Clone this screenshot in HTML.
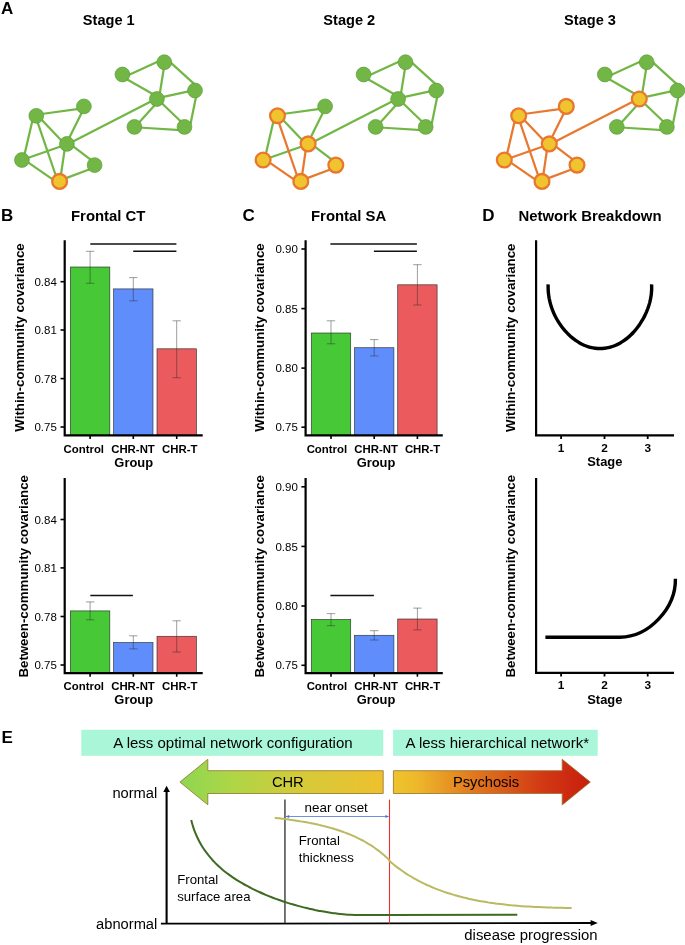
<!DOCTYPE html>
<html><head><meta charset="utf-8"><title>Figure</title>
<style>html,body{margin:0;padding:0;background:#fff;}body{width:685px;height:945px;overflow:hidden;}svg{will-change:transform;display:block;position:absolute;left:0;top:0;}text{font-family:"Liberation Sans",sans-serif;fill:#000;}.b{font-weight:bold;}</style>
</head><body>
<svg width="685" height="945" viewBox="0 0 685 945">
<defs>
<linearGradient id="g1" x1="0" y1="0" x2="1" y2="0"><stop offset="0" stop-color="#8DD651"/><stop offset="0.25" stop-color="#ADD647"/><stop offset="0.6" stop-color="#D5CA39"/><stop offset="1" stop-color="#EEC02E"/></linearGradient>
<linearGradient id="g2" x1="0" y1="0" x2="1" y2="0"><stop offset="0" stop-color="#EEC42E"/><stop offset="0.12" stop-color="#EDB82B"/><stop offset="0.4" stop-color="#E27A1E"/><stop offset="0.75" stop-color="#D23A14"/><stop offset="1" stop-color="#C81E0E"/></linearGradient>
</defs>
<g>
<line x1="41.4" y1="114.0" x2="78.9" y2="108.9" stroke="#72B746" stroke-width="2.25"/>
<line x1="40.7" y1="118.7" x2="62.1" y2="141.3" stroke="#72B746" stroke-width="2.25"/>
<line x1="32.5" y1="120.3" x2="24.4" y2="155.1" stroke="#72B746" stroke-width="2.25"/>
<line x1="37.2" y1="121.1" x2="56.3" y2="177.0" stroke="#72B746" stroke-width="2.25"/>
<line x1="82.2" y1="111.8" x2="68.8" y2="138.8" stroke="#72B746" stroke-width="2.25"/>
<line x1="62.0" y1="146.0" x2="27.0" y2="158.3" stroke="#72B746" stroke-width="2.25"/>
<line x1="64.7" y1="149.1" x2="60.7" y2="176.3" stroke="#72B746" stroke-width="2.25"/>
<line x1="71.9" y1="145.3" x2="91.6" y2="160.4" stroke="#72B746" stroke-width="2.25"/>
<line x1="27.3" y1="161.9" x2="54.1" y2="180.4" stroke="#72B746" stroke-width="2.25"/>
<line x1="90.4" y1="169.0" x2="65.4" y2="178.4" stroke="#72B746" stroke-width="2.25"/>
<line x1="72.0" y1="142.1" x2="152.3" y2="100.7" stroke="#72B746" stroke-width="2.25"/>
<line x1="127.6" y1="75.5" x2="159.2" y2="61.1" stroke="#72B746" stroke-width="2.25"/>
<line x1="125.5" y1="78.6" x2="154.0" y2="94.8" stroke="#72B746" stroke-width="2.25"/>
<line x1="164.0" y1="67.2" x2="159.7" y2="94.1" stroke="#72B746" stroke-width="2.25"/>
<line x1="170.1" y1="62.2" x2="194.4" y2="84.1" stroke="#72B746" stroke-width="2.25"/>
<line x1="162.3" y1="97.2" x2="189.8" y2="91.1" stroke="#72B746" stroke-width="2.25"/>
<line x1="196.3" y1="95.5" x2="190.5" y2="123.9" stroke="#72B746" stroke-width="2.25"/>
<line x1="155.5" y1="104.3" x2="138.2" y2="123.4" stroke="#72B746" stroke-width="2.25"/>
<line x1="160.8" y1="102.3" x2="181.9" y2="122.5" stroke="#72B746" stroke-width="2.25"/>
<line x1="138.9" y1="127.5" x2="180.4" y2="130.2" stroke="#72B746" stroke-width="2.25"/>
<circle cx="36.3" cy="115.8" r="7.4" fill="#72B746" stroke="#5C9C3A" stroke-width="0.7"/>
<circle cx="83.9" cy="106.4" r="7.4" fill="#72B746" stroke="#5C9C3A" stroke-width="0.7"/>
<circle cx="66.9" cy="143.9" r="7.4" fill="#72B746" stroke="#5C9C3A" stroke-width="0.7"/>
<circle cx="21.9" cy="160.0" r="7.4" fill="#72B746" stroke="#5C9C3A" stroke-width="0.7"/>
<circle cx="94.6" cy="165.1" r="7.4" fill="#72B746" stroke="#5C9C3A" stroke-width="0.7"/>
<circle cx="59.6" cy="181.4" r="7.4" fill="#F0C42F" stroke="#E8782E" stroke-width="2.3"/>
<circle cx="122.4" cy="74.5" r="7.4" fill="#72B746" stroke="#5C9C3A" stroke-width="0.7"/>
<circle cx="164.3" cy="62.2" r="7.4" fill="#72B746" stroke="#5C9C3A" stroke-width="0.7"/>
<circle cx="195.0" cy="90.5" r="7.4" fill="#72B746" stroke="#5C9C3A" stroke-width="0.7"/>
<circle cx="156.9" cy="99.0" r="7.4" fill="#72B746" stroke="#5C9C3A" stroke-width="0.7"/>
<circle cx="134.4" cy="126.9" r="7.4" fill="#72B746" stroke="#5C9C3A" stroke-width="0.7"/>
<circle cx="184.5" cy="126.9" r="7.4" fill="#72B746" stroke="#5C9C3A" stroke-width="0.7"/>
</g>
<g>
<line x1="282.6" y1="114.0" x2="320.1" y2="108.9" stroke="#72B746" stroke-width="2.25"/>
<line x1="281.9" y1="118.7" x2="303.3" y2="141.3" stroke="#72B746" stroke-width="2.25"/>
<line x1="273.7" y1="120.3" x2="265.6" y2="155.1" stroke="#72B746" stroke-width="2.25"/>
<line x1="323.4" y1="111.8" x2="310.0" y2="138.8" stroke="#72B746" stroke-width="2.25"/>
<line x1="303.2" y1="146.0" x2="268.2" y2="158.3" stroke="#72B746" stroke-width="2.25"/>
<line x1="313.1" y1="145.3" x2="332.8" y2="160.4" stroke="#72B746" stroke-width="2.25"/>
<line x1="313.2" y1="142.1" x2="393.5" y2="100.7" stroke="#72B746" stroke-width="2.25"/>
<line x1="368.8" y1="75.5" x2="400.4" y2="61.1" stroke="#72B746" stroke-width="2.25"/>
<line x1="366.7" y1="78.6" x2="395.2" y2="94.8" stroke="#72B746" stroke-width="2.25"/>
<line x1="405.2" y1="67.2" x2="400.9" y2="94.1" stroke="#72B746" stroke-width="2.25"/>
<line x1="411.3" y1="62.2" x2="435.6" y2="84.1" stroke="#72B746" stroke-width="2.25"/>
<line x1="403.5" y1="97.2" x2="431.0" y2="91.1" stroke="#72B746" stroke-width="2.25"/>
<line x1="437.5" y1="95.5" x2="431.7" y2="123.9" stroke="#72B746" stroke-width="2.25"/>
<line x1="396.7" y1="104.3" x2="379.4" y2="123.4" stroke="#72B746" stroke-width="2.25"/>
<line x1="402.0" y1="102.3" x2="423.1" y2="122.5" stroke="#72B746" stroke-width="2.25"/>
<line x1="380.1" y1="127.5" x2="421.6" y2="130.2" stroke="#72B746" stroke-width="2.25"/>
<line x1="278.4" y1="121.1" x2="297.5" y2="177.0" stroke="#E8782E" stroke-width="2.25"/>
<line x1="305.9" y1="149.1" x2="301.9" y2="176.3" stroke="#E8782E" stroke-width="2.25"/>
<line x1="268.5" y1="161.9" x2="295.3" y2="180.4" stroke="#E8782E" stroke-width="2.25"/>
<line x1="331.6" y1="169.0" x2="306.6" y2="178.4" stroke="#E8782E" stroke-width="2.25"/>
<circle cx="277.5" cy="115.8" r="7.4" fill="#F0C42F" stroke="#E8782E" stroke-width="2.3"/>
<circle cx="325.1" cy="106.4" r="7.4" fill="#72B746" stroke="#5C9C3A" stroke-width="0.7"/>
<circle cx="308.1" cy="143.9" r="7.4" fill="#F0C42F" stroke="#E8782E" stroke-width="2.3"/>
<circle cx="263.1" cy="160.0" r="7.4" fill="#F0C42F" stroke="#E8782E" stroke-width="2.3"/>
<circle cx="335.8" cy="165.1" r="7.4" fill="#F0C42F" stroke="#E8782E" stroke-width="2.3"/>
<circle cx="300.8" cy="181.4" r="7.4" fill="#F0C42F" stroke="#E8782E" stroke-width="2.3"/>
<circle cx="363.6" cy="74.5" r="7.4" fill="#72B746" stroke="#5C9C3A" stroke-width="0.7"/>
<circle cx="405.5" cy="62.2" r="7.4" fill="#72B746" stroke="#5C9C3A" stroke-width="0.7"/>
<circle cx="436.2" cy="90.5" r="7.4" fill="#72B746" stroke="#5C9C3A" stroke-width="0.7"/>
<circle cx="398.1" cy="99.0" r="7.4" fill="#72B746" stroke="#5C9C3A" stroke-width="0.7"/>
<circle cx="375.6" cy="126.9" r="7.4" fill="#72B746" stroke="#5C9C3A" stroke-width="0.7"/>
<circle cx="425.7" cy="126.9" r="7.4" fill="#72B746" stroke="#5C9C3A" stroke-width="0.7"/>
</g>
<g>
<line x1="610.0" y1="75.5" x2="641.6" y2="61.1" stroke="#72B746" stroke-width="2.25"/>
<line x1="607.9" y1="78.6" x2="636.4" y2="94.8" stroke="#72B746" stroke-width="2.25"/>
<line x1="646.4" y1="67.2" x2="642.1" y2="94.1" stroke="#72B746" stroke-width="2.25"/>
<line x1="652.5" y1="62.2" x2="676.8" y2="84.1" stroke="#72B746" stroke-width="2.25"/>
<line x1="644.7" y1="97.2" x2="672.2" y2="91.1" stroke="#72B746" stroke-width="2.25"/>
<line x1="678.7" y1="95.5" x2="672.9" y2="123.9" stroke="#72B746" stroke-width="2.25"/>
<line x1="637.9" y1="104.3" x2="620.6" y2="123.4" stroke="#72B746" stroke-width="2.25"/>
<line x1="643.2" y1="102.3" x2="664.3" y2="122.5" stroke="#72B746" stroke-width="2.25"/>
<line x1="621.3" y1="127.5" x2="662.8" y2="130.2" stroke="#72B746" stroke-width="2.25"/>
<line x1="523.8" y1="114.0" x2="561.3" y2="108.9" stroke="#E8782E" stroke-width="2.25"/>
<line x1="523.1" y1="118.7" x2="544.5" y2="141.3" stroke="#E8782E" stroke-width="2.25"/>
<line x1="514.9" y1="120.3" x2="506.8" y2="155.1" stroke="#E8782E" stroke-width="2.25"/>
<line x1="519.6" y1="121.1" x2="538.7" y2="177.0" stroke="#E8782E" stroke-width="2.25"/>
<line x1="564.6" y1="111.8" x2="551.2" y2="138.8" stroke="#E8782E" stroke-width="2.25"/>
<line x1="544.4" y1="146.0" x2="509.4" y2="158.3" stroke="#E8782E" stroke-width="2.25"/>
<line x1="547.1" y1="149.1" x2="543.1" y2="176.3" stroke="#E8782E" stroke-width="2.25"/>
<line x1="554.3" y1="145.3" x2="574.0" y2="160.4" stroke="#E8782E" stroke-width="2.25"/>
<line x1="509.7" y1="161.9" x2="536.5" y2="180.4" stroke="#E8782E" stroke-width="2.25"/>
<line x1="572.8" y1="169.0" x2="547.8" y2="178.4" stroke="#E8782E" stroke-width="2.25"/>
<line x1="554.4" y1="142.1" x2="634.7" y2="100.7" stroke="#E8782E" stroke-width="2.25"/>
<circle cx="518.7" cy="115.8" r="7.4" fill="#F0C42F" stroke="#E8782E" stroke-width="2.3"/>
<circle cx="566.3" cy="106.4" r="7.4" fill="#F0C42F" stroke="#E8782E" stroke-width="2.3"/>
<circle cx="549.3" cy="143.9" r="7.4" fill="#F0C42F" stroke="#E8782E" stroke-width="2.3"/>
<circle cx="504.3" cy="160.0" r="7.4" fill="#F0C42F" stroke="#E8782E" stroke-width="2.3"/>
<circle cx="577.0" cy="165.1" r="7.4" fill="#F0C42F" stroke="#E8782E" stroke-width="2.3"/>
<circle cx="542.0" cy="181.4" r="7.4" fill="#F0C42F" stroke="#E8782E" stroke-width="2.3"/>
<circle cx="604.8" cy="74.5" r="7.4" fill="#72B746" stroke="#5C9C3A" stroke-width="0.7"/>
<circle cx="646.7" cy="62.2" r="7.4" fill="#72B746" stroke="#5C9C3A" stroke-width="0.7"/>
<circle cx="677.4" cy="90.5" r="7.4" fill="#72B746" stroke="#5C9C3A" stroke-width="0.7"/>
<circle cx="639.3" cy="99.0" r="7.4" fill="#F0C42F" stroke="#E8782E" stroke-width="2.3"/>
<circle cx="616.8" cy="126.9" r="7.4" fill="#72B746" stroke="#5C9C3A" stroke-width="0.7"/>
<circle cx="666.9" cy="126.9" r="7.4" fill="#72B746" stroke="#5C9C3A" stroke-width="0.7"/>
</g>
<text x="1.0" y="14.2" font-size="17" class="b" text-anchor="start">A</text>
<text x="108.8" y="25.2" font-size="14.6" class="b" text-anchor="middle">Stage 1</text>
<text x="349.3" y="25.2" font-size="14.6" class="b" text-anchor="middle">Stage 2</text>
<text x="590.0" y="25.2" font-size="14.6" class="b" text-anchor="middle">Stage 3</text>
<rect x="70.4" y="267.0" width="39.4" height="168.4" fill="#47C836" stroke="#222" stroke-opacity="0.85" stroke-width="0.7"/>
<rect x="113.6" y="288.9" width="39.4" height="146.5" fill="#5F8DFC" stroke="#222" stroke-opacity="0.85" stroke-width="0.7"/>
<rect x="157.0" y="348.8" width="39.4" height="86.6" fill="#EB5B5D" stroke="#222" stroke-opacity="0.85" stroke-width="0.7"/>
<path d="M85.9,251.3H94.3M90.1,251.3V283.3M85.9,283.3H94.3" stroke="#2a2a2a" stroke-opacity="0.65" stroke-width="0.7" fill="none"/>
<path d="M129.1,277.6H137.5M133.3,277.6V300.8M129.1,300.8H137.5" stroke="#2a2a2a" stroke-opacity="0.65" stroke-width="0.7" fill="none"/>
<path d="M172.5,320.8H180.9M176.7,320.8V377.7M172.5,377.7H180.9" stroke="#2a2a2a" stroke-opacity="0.65" stroke-width="0.7" fill="none"/>
<path d="M64.7,240.3V435.4H202.7" stroke="#000" stroke-width="2.2" fill="none" stroke-linejoin="miter"/>
<line x1="60.5" y1="281.7" x2="64.7" y2="281.7" stroke="#000" stroke-width="1.6"/>
<text x="56.8" y="285.8" font-size="11.5" text-anchor="end" fill="#1a1a1a">0.84</text>
<line x1="60.5" y1="330.0" x2="64.7" y2="330.0" stroke="#000" stroke-width="1.6"/>
<text x="56.8" y="334.1" font-size="11.5" text-anchor="end" fill="#1a1a1a">0.81</text>
<line x1="60.5" y1="378.6" x2="64.7" y2="378.6" stroke="#000" stroke-width="1.6"/>
<text x="56.8" y="382.70000000000005" font-size="11.5" text-anchor="end" fill="#1a1a1a">0.78</text>
<line x1="60.5" y1="427.0" x2="64.7" y2="427.0" stroke="#000" stroke-width="1.6"/>
<text x="56.8" y="431.1" font-size="11.5" text-anchor="end" fill="#1a1a1a">0.75</text>
<line x1="90.1" y1="435.4" x2="90.1" y2="439.0" stroke="#000" stroke-width="1.6"/>
<line x1="133.3" y1="435.4" x2="133.3" y2="439.0" stroke="#000" stroke-width="1.6"/>
<line x1="176.7" y1="435.4" x2="176.7" y2="439.0" stroke="#000" stroke-width="1.6"/>
<line x1="90.3" y1="244.0" x2="176.4" y2="244.0" stroke="#111" stroke-width="1.4"/>
<line x1="133.2" y1="251.2" x2="176.4" y2="251.2" stroke="#111" stroke-width="1.4"/>
<text x="83.8" y="452.7" font-size="11.4" class="b" text-anchor="middle">Control</text>
<text x="133.0" y="452.7" font-size="11.4" class="b" text-anchor="middle">CHR-NT</text>
<text x="179.7" y="452.7" font-size="11.4" class="b" text-anchor="middle">CHR-T</text>
<text x="133.7" y="466.7" font-size="12.9" class="b" text-anchor="middle">Group</text>
<text transform="translate(24.0,337.5) rotate(-90)" font-size="13.25" class="b" text-anchor="middle">Within-community covariance</text>
<rect x="70.4" y="610.9" width="39.4" height="62.2" fill="#47C836" stroke="#222" stroke-opacity="0.85" stroke-width="0.7"/>
<rect x="113.6" y="642.5" width="39.4" height="30.6" fill="#5F8DFC" stroke="#222" stroke-opacity="0.85" stroke-width="0.7"/>
<rect x="157.0" y="636.3" width="39.4" height="36.8" fill="#EB5B5D" stroke="#222" stroke-opacity="0.85" stroke-width="0.7"/>
<path d="M85.9,601.9H94.3M90.1,601.9V619.8M85.9,619.8H94.3" stroke="#2a2a2a" stroke-opacity="0.65" stroke-width="0.7" fill="none"/>
<path d="M129.1,635.8H137.5M133.3,635.8V648.9M129.1,648.9H137.5" stroke="#2a2a2a" stroke-opacity="0.65" stroke-width="0.7" fill="none"/>
<path d="M172.5,620.8H180.9M176.7,620.8V652.0M172.5,652.0H180.9" stroke="#2a2a2a" stroke-opacity="0.65" stroke-width="0.7" fill="none"/>
<path d="M64.7,478.1V673.1H202.7" stroke="#000" stroke-width="2.2" fill="none" stroke-linejoin="miter"/>
<line x1="60.5" y1="519.5" x2="64.7" y2="519.5" stroke="#000" stroke-width="1.6"/>
<text x="56.8" y="523.6" font-size="11.5" text-anchor="end" fill="#1a1a1a">0.84</text>
<line x1="60.5" y1="567.9" x2="64.7" y2="567.9" stroke="#000" stroke-width="1.6"/>
<text x="56.8" y="572.0" font-size="11.5" text-anchor="end" fill="#1a1a1a">0.81</text>
<line x1="60.5" y1="616.5" x2="64.7" y2="616.5" stroke="#000" stroke-width="1.6"/>
<text x="56.8" y="620.6" font-size="11.5" text-anchor="end" fill="#1a1a1a">0.78</text>
<line x1="60.5" y1="665.0" x2="64.7" y2="665.0" stroke="#000" stroke-width="1.6"/>
<text x="56.8" y="669.1" font-size="11.5" text-anchor="end" fill="#1a1a1a">0.75</text>
<line x1="90.1" y1="673.1" x2="90.1" y2="676.7" stroke="#000" stroke-width="1.6"/>
<line x1="133.3" y1="673.1" x2="133.3" y2="676.7" stroke="#000" stroke-width="1.6"/>
<line x1="176.7" y1="673.1" x2="176.7" y2="676.7" stroke="#000" stroke-width="1.6"/>
<line x1="90.3" y1="595.5" x2="132.9" y2="595.5" stroke="#111" stroke-width="1.4"/>
<text x="83.8" y="690.4" font-size="11.4" class="b" text-anchor="middle">Control</text>
<text x="133.0" y="690.4" font-size="11.4" class="b" text-anchor="middle">CHR-NT</text>
<text x="179.7" y="690.4" font-size="11.4" class="b" text-anchor="middle">CHR-T</text>
<text x="133.7" y="704.4" font-size="12.9" class="b" text-anchor="middle">Group</text>
<text transform="translate(27.6,576.3) rotate(-90)" font-size="13.25" class="b" text-anchor="middle">Between-community covariance</text>
<rect x="311.3" y="333.0" width="39.4" height="102.4" fill="#47C836" stroke="#222" stroke-opacity="0.85" stroke-width="0.7"/>
<rect x="354.5" y="347.7" width="39.4" height="87.7" fill="#5F8DFC" stroke="#222" stroke-opacity="0.85" stroke-width="0.7"/>
<rect x="397.7" y="284.8" width="39.4" height="150.6" fill="#EB5B5D" stroke="#222" stroke-opacity="0.85" stroke-width="0.7"/>
<path d="M326.8,320.8H335.2M331.0,320.8V343.8M326.8,343.8H335.2" stroke="#2a2a2a" stroke-opacity="0.65" stroke-width="0.7" fill="none"/>
<path d="M370.0,339.6H378.4M374.2,339.6V355.9M370.0,355.9H378.4" stroke="#2a2a2a" stroke-opacity="0.65" stroke-width="0.7" fill="none"/>
<path d="M413.2,264.7H421.6M417.4,264.7V305.0M413.2,305.0H421.6" stroke="#2a2a2a" stroke-opacity="0.65" stroke-width="0.7" fill="none"/>
<path d="M305.6,240.3V435.4H442.8" stroke="#000" stroke-width="2.2" fill="none" stroke-linejoin="miter"/>
<line x1="301.40000000000003" y1="249.0" x2="305.6" y2="249.0" stroke="#000" stroke-width="1.6"/>
<text x="297.79999999999995" y="253.1" font-size="11.5" text-anchor="end" fill="#1a1a1a">0.90</text>
<line x1="301.40000000000003" y1="308.6" x2="305.6" y2="308.6" stroke="#000" stroke-width="1.6"/>
<text x="297.79999999999995" y="312.70000000000005" font-size="11.5" text-anchor="end" fill="#1a1a1a">0.85</text>
<line x1="301.40000000000003" y1="368.1" x2="305.6" y2="368.1" stroke="#000" stroke-width="1.6"/>
<text x="297.79999999999995" y="372.20000000000005" font-size="11.5" text-anchor="end" fill="#1a1a1a">0.80</text>
<line x1="301.40000000000003" y1="427.2" x2="305.6" y2="427.2" stroke="#000" stroke-width="1.6"/>
<text x="297.79999999999995" y="431.3" font-size="11.5" text-anchor="end" fill="#1a1a1a">0.75</text>
<line x1="331.0" y1="435.4" x2="331.0" y2="439.0" stroke="#000" stroke-width="1.6"/>
<line x1="374.2" y1="435.4" x2="374.2" y2="439.0" stroke="#000" stroke-width="1.6"/>
<line x1="417.4" y1="435.4" x2="417.4" y2="439.0" stroke="#000" stroke-width="1.6"/>
<line x1="330.4" y1="244.0" x2="416.9" y2="244.0" stroke="#111" stroke-width="1.4"/>
<line x1="373.9" y1="251.2" x2="416.9" y2="251.2" stroke="#111" stroke-width="1.4"/>
<text x="326.9" y="452.7" font-size="11.4" class="b" text-anchor="middle">Control</text>
<text x="376.1" y="452.7" font-size="11.4" class="b" text-anchor="middle">CHR-NT</text>
<text x="422.6" y="452.7" font-size="11.4" class="b" text-anchor="middle">CHR-T</text>
<text x="376.0" y="466.7" font-size="12.9" class="b" text-anchor="middle">Group</text>
<text transform="translate(263.8,337.5) rotate(-90)" font-size="13.25" class="b" text-anchor="middle">Within-community covariance</text>
<rect x="311.3" y="619.5" width="39.4" height="53.6" fill="#47C836" stroke="#222" stroke-opacity="0.85" stroke-width="0.7"/>
<rect x="354.5" y="635.3" width="39.4" height="37.8" fill="#5F8DFC" stroke="#222" stroke-opacity="0.85" stroke-width="0.7"/>
<rect x="397.7" y="619.0" width="39.4" height="54.1" fill="#EB5B5D" stroke="#222" stroke-opacity="0.85" stroke-width="0.7"/>
<path d="M326.8,613.6H335.2M331.0,613.6V625.7M326.8,625.7H335.2" stroke="#2a2a2a" stroke-opacity="0.65" stroke-width="0.7" fill="none"/>
<path d="M370.0,630.7H378.4M374.2,630.7V640.0M370.0,640.0H378.4" stroke="#2a2a2a" stroke-opacity="0.65" stroke-width="0.7" fill="none"/>
<path d="M413.2,608.1H421.6M417.4,608.1V629.9M413.2,629.9H421.6" stroke="#2a2a2a" stroke-opacity="0.65" stroke-width="0.7" fill="none"/>
<path d="M305.6,478.1V673.1H442.8" stroke="#000" stroke-width="2.2" fill="none" stroke-linejoin="miter"/>
<line x1="301.40000000000003" y1="486.8" x2="305.6" y2="486.8" stroke="#000" stroke-width="1.6"/>
<text x="297.79999999999995" y="490.90000000000003" font-size="11.5" text-anchor="end" fill="#1a1a1a">0.90</text>
<line x1="301.40000000000003" y1="546.4" x2="305.6" y2="546.4" stroke="#000" stroke-width="1.6"/>
<text x="297.79999999999995" y="550.5" font-size="11.5" text-anchor="end" fill="#1a1a1a">0.85</text>
<line x1="301.40000000000003" y1="606.0" x2="305.6" y2="606.0" stroke="#000" stroke-width="1.6"/>
<text x="297.79999999999995" y="610.1" font-size="11.5" text-anchor="end" fill="#1a1a1a">0.80</text>
<line x1="301.40000000000003" y1="665.3" x2="305.6" y2="665.3" stroke="#000" stroke-width="1.6"/>
<text x="297.79999999999995" y="669.4" font-size="11.5" text-anchor="end" fill="#1a1a1a">0.75</text>
<line x1="331.0" y1="673.1" x2="331.0" y2="676.7" stroke="#000" stroke-width="1.6"/>
<line x1="374.2" y1="673.1" x2="374.2" y2="676.7" stroke="#000" stroke-width="1.6"/>
<line x1="417.4" y1="673.1" x2="417.4" y2="676.7" stroke="#000" stroke-width="1.6"/>
<line x1="330.4" y1="595.5" x2="373.9" y2="595.5" stroke="#111" stroke-width="1.4"/>
<text x="326.9" y="690.4" font-size="11.4" class="b" text-anchor="middle">Control</text>
<text x="376.1" y="690.4" font-size="11.4" class="b" text-anchor="middle">CHR-NT</text>
<text x="422.6" y="690.4" font-size="11.4" class="b" text-anchor="middle">CHR-T</text>
<text x="376.0" y="704.4" font-size="12.9" class="b" text-anchor="middle">Group</text>
<text transform="translate(263.8,576.3) rotate(-90)" font-size="13.25" class="b" text-anchor="middle">Between-community covariance</text>
<text x="0.9" y="220.6" font-size="17" class="b" text-anchor="start">B</text>
<text x="242.4" y="220.7" font-size="17" class="b" text-anchor="start">C</text>
<text x="482.2" y="220.8" font-size="17" class="b" text-anchor="start">D</text>
<text x="71.0" y="220.5" font-size="14.9" class="b" text-anchor="start">Frontal CT</text>
<text x="311.0" y="220.5" font-size="14.9" class="b" text-anchor="start">Frontal SA</text>
<text x="518.4" y="220.5" font-size="14.9" class="b" text-anchor="start">Network Breakdown</text>
<path d="M536.1,240.2V435.4H674" stroke="#000" stroke-width="2.2" fill="none"/>
<line x1="561.1" y1="435.4" x2="561.1" y2="439.0" stroke="#000" stroke-width="1.8"/>
<text x="561.1" y="451.79999999999995" font-size="11.8" class="b" text-anchor="middle">1</text>
<line x1="604.5" y1="435.4" x2="604.5" y2="439.0" stroke="#000" stroke-width="1.8"/>
<text x="604.5" y="451.79999999999995" font-size="11.8" class="b" text-anchor="middle">2</text>
<line x1="647.7" y1="435.4" x2="647.7" y2="439.0" stroke="#000" stroke-width="1.8"/>
<text x="647.7" y="451.79999999999995" font-size="11.8" class="b" text-anchor="middle">3</text>
<text x="604.8" y="466.4" font-size="12.9" class="b" text-anchor="middle">Stage</text>
<text transform="translate(515.3,337.8) rotate(-90)" font-size="13.25" class="b" text-anchor="middle">Within-community covariance</text>
<path d="M548.15,284.38C548.1,285.2 548.1,287.5 548.15,289.09C548.2,290.6 548.3,292.2 548.49,293.74C548.7,295.3 548.9,296.8 549.17,298.34C549.5,299.9 549.8,301.4 550.18,302.86C550.6,304.4 551.0,305.8 551.5,307.29C552.0,308.8 552.5,310.2 553.12,311.63C553.7,313.1 554.4,314.5 555.05,315.86C555.7,317.2 556.5,318.6 557.27,319.96C558.1,321.3 558.9,322.6 559.77,323.93C560.6,325.2 561.6,326.5 562.53,327.74C563.5,329.0 564.5,330.2 565.56,331.37C566.6,332.5 567.7,333.7 568.84,334.77C570.0,335.9 571.1,336.9 572.34,337.9C573.5,338.9 574.8,339.8 576.08,340.71C577.4,341.6 578.7,342.4 580.02,343.16C581.4,343.9 582.7,344.6 584.15,345.2C585.6,345.8 587.0,346.3 588.47,346.8C589.9,347.3 591.4,347.6 592.96,347.91C594.5,348.2 596.0,348.4 597.55,348.49C599.1,348.6 600.6,348.6 602.18,348.49C603.7,348.4 605.3,348.2 606.78,347.91C608.3,347.6 609.8,347.3 611.31,346.8C612.8,346.3 614.3,345.8 615.7,345.2C617.1,344.6 618.5,343.9 619.9,343.16C621.3,342.4 622.6,341.6 623.87,340.71C625.2,339.8 626.4,338.9 627.59,337.9C628.8,336.9 629.9,335.9 631.05,334.77C632.2,333.7 633.2,332.5 634.27,331.37C635.3,330.2 636.3,329.0 637.25,327.74C638.2,326.5 639.1,325.2 639.98,323.93C640.8,322.6 641.7,321.3 642.46,319.96C643.2,318.6 644.0,317.2 644.68,315.86C645.4,314.5 646.0,313.1 646.63,311.63C647.2,310.2 647.8,308.8 648.29,307.29C648.8,305.8 649.2,304.4 649.64,302.86C650.0,301.4 650.4,299.9 650.66,298.34C650.9,296.8 651.2,295.3 651.34,293.74C651.5,292.2 651.6,290.6 651.67,289.09C651.7,287.5 651.6,285.2 651.63,284.38" stroke="#000" stroke-width="3.4" fill="none"/>
<path d="M536.1,478.1V672.9H674" stroke="#000" stroke-width="2.2" fill="none"/>
<line x1="561.1" y1="672.9" x2="561.1" y2="676.5" stroke="#000" stroke-width="1.8"/>
<text x="561.1" y="689.3" font-size="11.8" class="b" text-anchor="middle">1</text>
<line x1="604.5" y1="672.9" x2="604.5" y2="676.5" stroke="#000" stroke-width="1.8"/>
<text x="604.5" y="689.3" font-size="11.8" class="b" text-anchor="middle">2</text>
<line x1="647.7" y1="672.9" x2="647.7" y2="676.5" stroke="#000" stroke-width="1.8"/>
<text x="647.7" y="689.3" font-size="11.8" class="b" text-anchor="middle">3</text>
<text x="604.8" y="703.9" font-size="12.9" class="b" text-anchor="middle">Stage</text>
<text transform="translate(515.3,576.2) rotate(-90)" font-size="13.25" class="b" text-anchor="middle">Between-community covariance</text>
<path d="M545.4,637.2H620C649,637.2 676,608 675.4,578.8" stroke="#000" stroke-width="3.4" fill="none"/>
<text x="1.6" y="743.0" font-size="17" class="b" text-anchor="start">E</text>
<rect x="81.3" y="729.8" width="301.9" height="26" fill="#A9F6D9"/>
<rect x="393.1" y="729.8" width="204.6" height="26" fill="#A9F6D9"/>
<text x="113.3" y="748.0" font-size="15.0" text-anchor="start">A less optimal network configuration</text>
<text x="405.6" y="748.0" font-size="15.0" text-anchor="start">A less hierarchical network*</text>
<path d="M179.9,782.1L207.8,759.3V770.7H383.2V793.5H207.8V804.8Z" fill="url(#g1)" stroke="#96702C" stroke-width="0.8"/>
<path d="M393.4,770.7H562.2V759.3L590.3,782.1L562.2,804.9V793.5H393.4Z" fill="url(#g2)" stroke="#96702C" stroke-width="0.8"/>
<text x="287.8" y="787.3" font-size="14.7" text-anchor="middle">CHR</text>
<text x="486.0" y="787.3" font-size="14.7" text-anchor="middle">Psychosis</text>
<path d="M166.6,923.6V790" stroke="#000" stroke-width="2.1" fill="none"/>
<path d="M166.6,785.8L169.9,792.0H163.3Z" fill="#000"/>
<path d="M160.9,923.7L592,923.0" stroke="#000" stroke-width="1.8" fill="none"/>
<path d="M597.8,923.0L590.6,926.1V919.9Z" fill="#000"/>
<text x="157.3" y="798.3" font-size="14.7" text-anchor="end">normal</text>
<text x="157.3" y="928.6" font-size="14.7" text-anchor="end">abnormal</text>
<text x="597.6" y="940.2" font-size="14.9" text-anchor="end">disease progression</text>
<line x1="284.95" y1="799.6" x2="284.95" y2="923" stroke="#3a3a3a" stroke-width="1.4"/>
<line x1="389.5" y1="799.6" x2="389.5" y2="923.6" stroke="#F03030" stroke-width="1.1"/>
<path d="M286,816.5H388.5" stroke="#4F74D6" stroke-width="0.8" fill="none"/>
<path d="M285.6,816.5L289.2,815V818ZM389,816.5L385.4,815V818Z" fill="#4D72D8"/>
<text x="336.2" y="811.9" font-size="13.4" text-anchor="middle">near onset</text>
<path d="M191.22,820.01C191.5,821.0 192.2,823.9 192.79,825.8C193.4,827.7 194.0,829.6 194.72,831.39C195.4,833.2 196.2,835.0 197.0,836.78C197.8,838.5 198.7,840.3 199.6,841.96C200.5,843.7 201.5,845.3 202.51,846.93C203.5,848.5 204.6,850.1 205.7,851.67C206.8,853.2 208.0,854.7 209.17,856.17C210.4,857.6 211.6,859.1 212.89,860.45C214.2,861.8 215.5,863.2 216.84,864.49C218.2,865.8 219.6,867.1 221.01,868.31C222.4,869.5 223.9,870.8 225.37,871.93C226.9,873.1 228.4,874.2 229.92,875.34C231.5,876.4 233.0,877.5 234.62,878.57C236.2,879.6 237.8,880.6 239.47,881.62C241.1,882.6 242.8,883.6 244.43,884.5C246.1,885.4 247.8,886.4 249.51,887.24C251.2,888.1 252.9,889.0 254.66,889.82C256.4,890.7 258.1,891.5 259.89,892.27C261.6,893.1 263.4,893.8 265.18,894.59C267.0,895.3 268.7,896.1 270.53,896.79C272.3,897.5 274.1,898.2 275.93,898.85C277.7,899.5 279.6,900.2 281.38,900.79C283.2,901.4 285.0,902.0 286.88,902.61C288.7,903.2 290.6,903.8 292.41,904.31C294.3,904.9 296.1,905.4 297.98,905.89C299.8,906.4 301.7,906.9 303.59,907.35C305.5,907.8 307.3,908.3 309.22,908.69C311.1,909.1 313.0,909.5 314.87,909.93C316.8,910.3 318.6,910.7 320.54,911.05C322.4,911.4 324.3,911.7 326.23,912.05C328.1,912.4 330.0,912.7 331.93,912.92C333.8,913.2 335.7,913.4 337.63,913.66C339.5,913.9 341.4,914.1 343.33,914.26C345.2,914.4 347.1,914.6 349.04,914.72C350.9,914.8 352.8,914.9 354.73,914.95C356.6,915.0 358.5,915.0 360.41,914.95C362.3,915.0 364.2,915.0 366.08,914.95C368.0,915.0 369.8,915.0 371.72,914.95C373.6,915.0 376.4,915.0 377.35,914.95L389.5,914.9L517.3,914.7" stroke="#3F6A23" stroke-width="2" fill="none"/>
<path d="M274.77,817.8C275.3,817.9 276.8,818.0 277.89,818.16C278.9,818.3 280.0,818.4 281.03,818.54C282.1,818.7 283.1,818.8 284.17,818.93C285.2,819.1 286.3,819.2 287.33,819.34C288.4,819.5 289.4,819.6 290.49,819.77C291.5,819.9 292.6,820.1 293.66,820.23C294.7,820.4 295.8,820.5 296.83,820.7C297.9,820.9 299.0,821.0 300.01,821.21C301.1,821.4 302.1,821.6 303.18,821.74C304.2,821.9 305.3,822.1 306.35,822.3C307.4,822.5 308.5,822.7 309.53,822.89C310.6,823.1 311.6,823.3 312.69,823.52C313.7,823.7 314.8,824.0 315.85,824.18C316.9,824.4 318.0,824.6 319.0,824.88C320.0,825.1 321.1,825.4 322.14,825.62C323.2,825.9 324.2,826.1 325.27,826.41C326.3,826.7 327.3,826.9 328.38,827.23C329.4,827.5 330.5,827.8 331.48,828.1C332.5,828.4 333.5,828.7 334.56,829.02C335.6,829.3 336.6,829.7 337.62,829.99C338.6,830.3 339.7,830.7 340.66,831.01C341.7,831.4 342.7,831.7 343.68,832.09C344.7,832.5 345.7,832.8 346.67,833.21C347.7,833.6 348.7,834.0 349.64,834.4C350.6,834.8 351.6,835.2 352.57,835.65C353.5,836.1 354.5,836.5 355.48,836.95C356.4,837.4 357.4,837.9 358.35,838.33C359.3,838.8 360.2,839.3 361.19,839.76C362.1,840.2 363.1,840.7 364.0,841.26C364.9,841.8 365.8,842.3 366.76,842.84C367.7,843.4 368.6,843.9 369.49,844.48C370.4,845.0 371.3,845.6 372.18,846.2C373.1,846.8 373.9,847.4 374.82,847.99C375.7,848.6 376.6,849.2 377.42,849.86C378.3,850.5 379.1,851.1 379.97,851.81C380.8,852.5 381.6,853.1 382.47,853.84C383.3,854.5 384.1,855.2 384.92,855.95C385.7,856.7 386.5,857.4 387.32,858.14C388.1,858.9 389.3,860.0 389.66,860.43L389.22,860.74C389.9,861.3 391.8,862.9 393.04,864.0C394.3,865.1 395.6,866.1 396.94,867.1C398.3,868.1 399.6,869.1 400.93,870.04C402.3,871.0 403.6,871.9 405.01,872.84C406.4,873.8 407.8,874.6 409.16,875.5C410.6,876.4 412.0,877.2 413.38,878.01C414.8,878.8 416.2,879.6 417.68,880.39C419.1,881.2 420.6,881.9 422.04,882.64C423.5,883.4 425.0,884.1 426.47,884.75C428.0,885.4 429.4,886.1 430.95,886.75C432.5,887.4 434.0,888.0 435.49,888.62C437.0,889.2 438.5,889.8 440.08,890.37C441.6,890.9 443.2,891.5 444.72,892.02C446.3,892.5 447.8,893.1 449.4,893.55C451.0,894.0 452.5,894.5 454.13,894.98C455.7,895.4 457.3,895.9 458.89,896.31C460.5,896.7 462.1,897.1 463.68,897.54C465.3,897.9 466.9,898.3 468.5,898.68C470.1,899.0 471.7,899.4 473.35,899.72C475.0,900.1 476.6,900.4 478.22,900.69C479.8,901.0 481.5,901.3 483.11,901.57C484.7,901.9 486.4,902.1 488.01,902.37C489.6,902.6 491.3,902.9 492.92,903.11C494.6,903.3 496.2,903.6 497.84,903.77C499.5,904.0 501.1,904.2 502.77,904.36C504.4,904.5 506.1,904.7 507.7,904.9C509.3,905.1 511.0,905.2 512.64,905.38C514.3,905.5 515.9,905.7 517.58,905.8C519.2,905.9 520.9,906.1 522.52,906.17C524.2,906.3 525.8,906.4 527.46,906.5C529.1,906.6 530.8,906.7 532.4,906.78C534.0,906.9 535.7,907.0 537.34,907.03C539.0,907.1 540.6,907.2 542.27,907.24C543.9,907.3 545.6,907.4 547.19,907.43C548.8,907.5 550.5,907.5 552.11,907.58C553.7,907.6 555.4,907.7 557.02,907.72C558.7,907.8 560.3,907.8 561.91,907.83C563.5,907.9 565.2,907.9 566.8,907.94C568.4,908.0 570.9,908.0 571.67,908.03" stroke="#BABA62" stroke-width="2" fill="none" stroke-linejoin="round"/>
<text x="177.2" y="884.0" font-size="13.2" text-anchor="start" fill="#222">Frontal</text>
<text x="177.2" y="900.5" font-size="13.2" text-anchor="start" fill="#222">surface area</text>
<text x="298.8" y="845.4" font-size="13.2" text-anchor="start" fill="#222">Frontal</text>
<text x="298.8" y="861.8" font-size="13.2" text-anchor="start" fill="#222">thickness</text>
</svg></body></html>
